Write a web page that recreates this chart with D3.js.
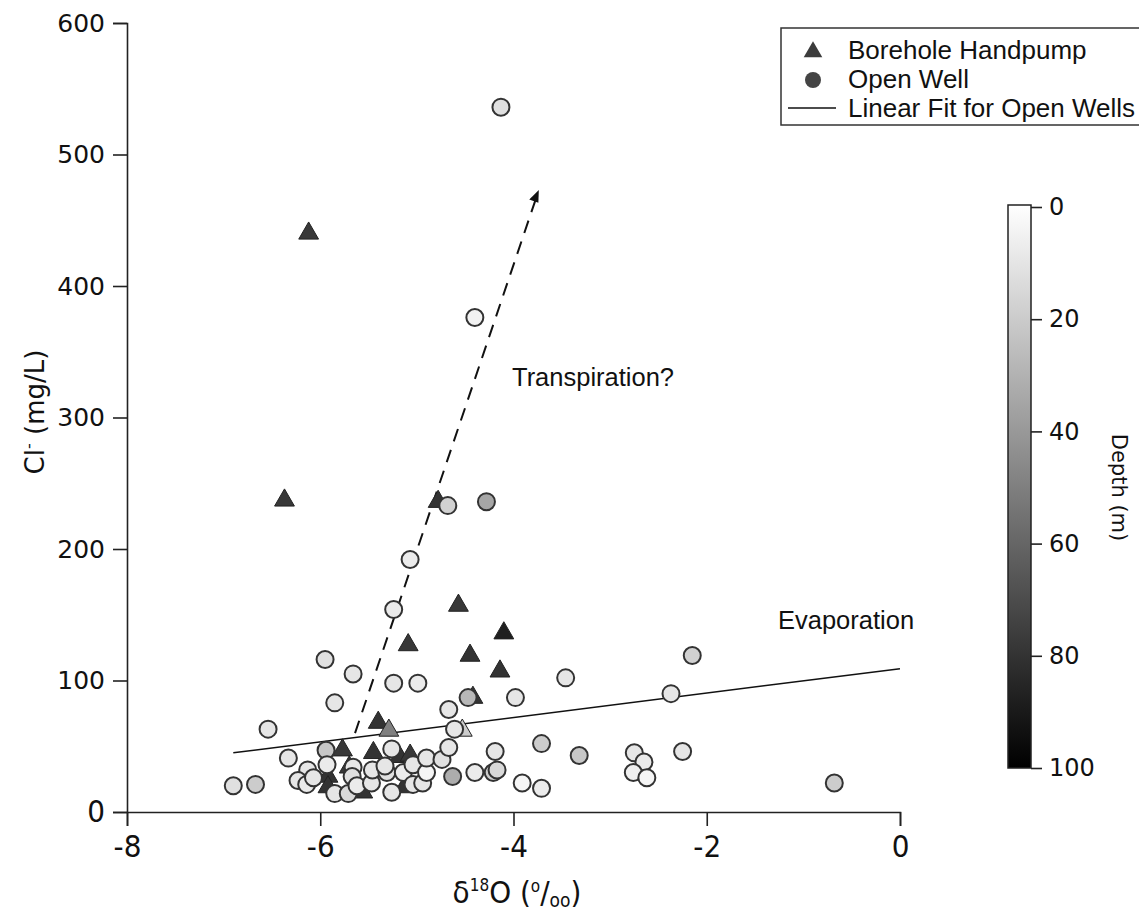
<!DOCTYPE html>
<html>
<head>
<meta charset="utf-8">
<script src="https://cdn.jsdelivr.net/npm/d3@7"></script>
<style>
  body { margin: 0; background: #fff; }
  text { fill: #111; }
  .narrow { font-family: 'Liberation Sans Narrow', 'DejaVu Sans Condensed', 'Arial Narrow', sans-serif; font-stretch: condensed; }
</style>
</head>
<body>
<div id="chart"></div>
<script>
// borehole handpumps (triangles)
const boreX = [-6.12, -6.37, -4.78, -4.57, -4.10, -5.09, -4.45, -4.14, -4.42, -5.40, -5.29,
  -4.53, -5.77, -5.45, -5.18, -5.07, -5.92, -5.92, -5.70, -5.56, -5.13];
const boreCl = [440, 237, 236, 157, 136, 127, 119, 107, 87, 68, 62,
  62, 47, 45, 42, 43, 27, 19, 34, 15, 19];
const boreDepth = [78, 78, 80, 78, 88, 78, 80, 80, 80, 80, 50,
  20, 78, 80, 80, 78, 80, 80, 78, 80, 80];

// open wells (circles)
const wellX = [-4.13, -4.40, -5.07, -4.68, -4.28, -5.24, -5.95, -5.66, -5.24, -4.99,
  -2.15, -3.46, -5.85, -3.98, -4.47, -4.67, -2.37, -6.54, -4.61, -3.71,
  -3.32, -2.75, -2.65, -2.76, -2.62, -2.25, -0.68, -6.90, -6.67, -6.33,
  -5.94, -6.13, -6.23, -6.14, -5.93, -5.85, -5.71, -5.66, -5.67, -5.62,
  -5.47, -5.46, -5.31, -5.26, -5.33, -5.14, -5.04, -5.04, -4.94, -4.90,
  -4.90, -4.74, -4.67, -4.63, -5.26, -4.40, -4.19, -4.21, -4.17, -3.91,
  -3.71, -6.07];
const wellCl = [536, 376, 192, 233, 236, 154, 116, 105, 98, 98,
  119, 102, 83, 87, 87, 78, 90, 63, 63, 52,
  43, 45, 38, 30, 26, 46, 22, 20, 21, 41,
  47, 32, 24, 21, 36, 14, 14, 34, 27, 20,
  22, 32, 30, 48, 35, 30, 36, 21, 22, 30,
  41, 40, 49, 27, 15, 30, 46, 30, 32, 22,
  18, 26];
const wellDepth = [12, 5, 8, 18, 35, 8, 12, 10, 10, 8,
  18, 10, 10, 10, 28, 10, 10, 10, 10, 20,
  22, 10, 8, 6, 4, 10, 20, 12, 20, 10,
  22, 10, 10, 8, 8, 10, 15, 10, 12, 8,
  10, 10, 12, 10, 10, 8, 10, 10, 10, 4,
  10, 12, 10, 32, 10, 8, 10, 20, 15, 4,
  8, 10];

// lines
const fitX = [-6.9, 0];
const fitCl = [45, 109];
const transX = [-5.64, -3.77];
const transCl = [60, 466];

const xTicks = [-8, -6, -4, -2, 0];
const yTicks = [0, 100, 200, 300, 400, 500, 600];
const depthTicks = [0, 20, 40, 60, 80, 100];
const legendLabels = ["Borehole Handpump", "Open Well", "Linear Fit for Open Wells"];

const W = 1139, H = 910;
const x = d3.scaleLinear().domain([-8, 0]).range([127, 900]);
const y = d3.scaleLinear().domain([0, 600]).range([812, 23]);
const depthY = d3.scaleLinear().domain([0, 100]).range([207, 768]);
const grey = d3.scaleLinear().domain([0, 100]).range(["#ffffff", "#000000"]);

const svg = d3.select("#chart")
  .append("svg")
  .attr("width", W)
  .attr("height", H)
  .style("font-family", "'DejaVu Sans', sans-serif");

const defs = svg.append("defs");
const grad = defs.append("linearGradient")
  .attr("id", "depthGrad")
  .attr("x1", 0).attr("y1", 0).attr("x2", 0).attr("y2", 1);
grad.append("stop").attr("offset", "0%").attr("stop-color", "#fff");
grad.append("stop").attr("offset", "100%").attr("stop-color", "#000");

defs.append("marker")
  .attr("id", "arrow")
  .attr("viewBox", "0 -5 10 10")
  .attr("refX", 2)
  .attr("refY", 0)
  .attr("markerUnits", "userSpaceOnUse")
  .attr("markerWidth", 18)
  .attr("markerHeight", 12)
  .attr("orient", "auto")
  .append("path")
  .attr("d", "M0,-5L10,0L0,3Z")
  .attr("fill", "#111");

// axes
const xAxis = svg.append("g")
  .attr("transform", `translate(0,${y(0)})`)
  .call(d3.axisBottom(x).tickValues(xTicks).tickSize(14).tickPadding(9));
xAxis.selectAll("text")
  .attr("class", "narrow")
  .attr("font-family", null)
  .style("font-size", "31px")
  .text(d => d < 0 ? "-" + Math.abs(d) : d);

const yAxis = svg.append("g")
  .attr("transform", `translate(${x(-8)},0)`)
  .call(d3.axisLeft(y).tickValues(yTicks).tickSize(14).tickPadding(8));
yAxis.attr("font-family", null);
xAxis.attr("font-family", null);
yAxis.selectAll("text")
  .style("font-family", "'DejaVu Sans', sans-serif")
  .style("font-size", "25px");
yAxis.selectAll(".tick")
  .filter(d => d === 0)
  .select("text")
  .attr("class", "narrow")
  .style("font-family", null)
  .style("font-size", "31px");

svg.selectAll(".domain, .tick line")
  .attr("stroke", "#222")
  .attr("stroke-width", 1.6);

// axis titles
const yTitle = svg.append("text")
  .attr("transform", "translate(44,412) rotate(-90)")
  .attr("text-anchor", "middle")
  .style("font-size", "26px");
yTitle.append("tspan").text("Cl");
yTitle.append("tspan").attr("dy", -10).style("font-size", "16px").text("-");
yTitle.append("tspan").attr("dy", 10).text(" (mg/L)");

const xTitle = svg.append("text")
  .attr("class", "narrow")
  .attr("x", 517)
  .attr("y", 903)
  .attr("text-anchor", "middle")
  .style("font-size", "31px");
xTitle.append("tspan").text("δ");
xTitle.append("tspan").attr("dy", -12).style("font-size", "17px").text("18");
xTitle.append("tspan").attr("dy", 12).text("O (");
xTitle.append("tspan").attr("dy", -11).style("font-size", "17px").text("o");
xTitle.append("tspan").attr("dy", 11).text("/");
xTitle.append("tspan").attr("dy", 4).style("font-size", "19px").text("oo");
xTitle.append("tspan").attr("dy", -4).text(")");

// fit line and transpiration trend
const line = d3.line()
  .x(d => x(d[0]))
  .y(d => y(d[1]));

svg.append("path")
  .datum(d3.zip(fitX, fitCl))
  .attr("fill", "none")
  .attr("stroke", "#111")
  .attr("stroke-width", 1.5)
  .attr("d", line);

svg.append("path")
  .datum(d3.zip(transX, transCl))
  .attr("fill", "none")
  .attr("stroke", "#111")
  .attr("stroke-width", 2)
  .attr("stroke-dasharray", "13,9")
  .attr("marker-end", "url(#arrow)")
  .attr("d", line);

// markers
const tri = d3.symbol().type(d3.symbolTriangle).size(170);

svg.selectAll(".bore")
  .data(d3.range(boreX.length))
  .enter()
  .append("path")
  .attr("class", "bore")
  .attr("d", tri)
  .attr("transform", i => `translate(${x(boreX[i])},${y(boreCl[i])})`)
  .attr("fill", i => grey(boreDepth[i]))
  .attr("stroke", "#222")
  .attr("stroke-width", 1);

svg.selectAll(".well")
  .data(d3.range(wellX.length))
  .enter()
  .append("circle")
  .attr("class", "well")
  .attr("cx", i => x(wellX[i]))
  .attr("cy", i => y(wellCl[i]))
  .attr("r", 8.5)
  .attr("fill", i => grey(wellDepth[i]))
  .attr("stroke", "#333")
  .attr("stroke-width", 2);

// annotations
svg.append("text")
  .attr("x", 512)
  .attr("y", 386)
  .style("font-family", "'Liberation Sans', Arial, sans-serif")
  .style("font-size", "25.5px")
  .text("Transpiration?");

svg.append("text")
  .attr("x", 778)
  .attr("y", 629)
  .style("font-family", "'Liberation Sans', Arial, sans-serif")
  .style("font-size", "25.5px")
  .text("Evaporation");

// legend
const legend = svg.append("g")
  .style("font-family", "'Liberation Sans', Arial, sans-serif")
  .style("font-size", "26px");

legend.append("rect")
  .attr("x", 781)
  .attr("y", 28)
  .attr("width", 370)
  .attr("height", 97)
  .attr("fill", "#fff")
  .attr("stroke", "#333")
  .attr("stroke-width", 1.5);

legend.append("path")
  .attr("d", d3.symbol().type(d3.symbolTriangle).size(150))
  .attr("transform", "translate(813,52)")
  .attr("fill", "#3c3c3c");

legend.append("circle")
  .attr("cx", 813)
  .attr("cy", 80)
  .attr("r", 8)
  .attr("fill", "#444");

legend.append("line")
  .attr("x1", 788).attr("x2", 836)
  .attr("y1", 108).attr("y2", 108)
  .attr("stroke", "#111")
  .attr("stroke-width", 1.5);

legend.selectAll(".lab")
  .data(legendLabels)
  .enter()
  .append("text")
  .attr("class", "lab")
  .attr("x", 848)
  .attr("y", (d, i) => 59 + i * 29)
  .text(d => d);

// depth colour bar
svg.append("rect")
  .attr("x", 1008)
  .attr("y", depthY(0) - 2)
  .attr("width", 23)
  .attr("height", depthY(100) - depthY(0) + 2)
  .attr("fill", "url(#depthGrad)")
  .attr("stroke", "#222")
  .attr("stroke-width", 1.5);

const cAxis = svg.append("g")
  .attr("transform", "translate(1031,0)")
  .call(d3.axisRight(depthY).tickValues(depthTicks).tickSize(11).tickPadding(7));
cAxis.attr("font-family", null);
cAxis.select(".domain").remove();
cAxis.selectAll("line").attr("stroke", "#222").attr("stroke-width", 1.6);
cAxis.selectAll("text")
  .style("font-family", "'DejaVu Sans', sans-serif")
  .style("font-size", "24px");

svg.append("text")
  .attr("transform", `translate(1112,${(depthY(0) + depthY(100)) / 2}) rotate(90)`)
  .attr("text-anchor", "middle")
  .style("font-size", "21px")
  .text("Depth (m)");
</script>
</body>
</html>
